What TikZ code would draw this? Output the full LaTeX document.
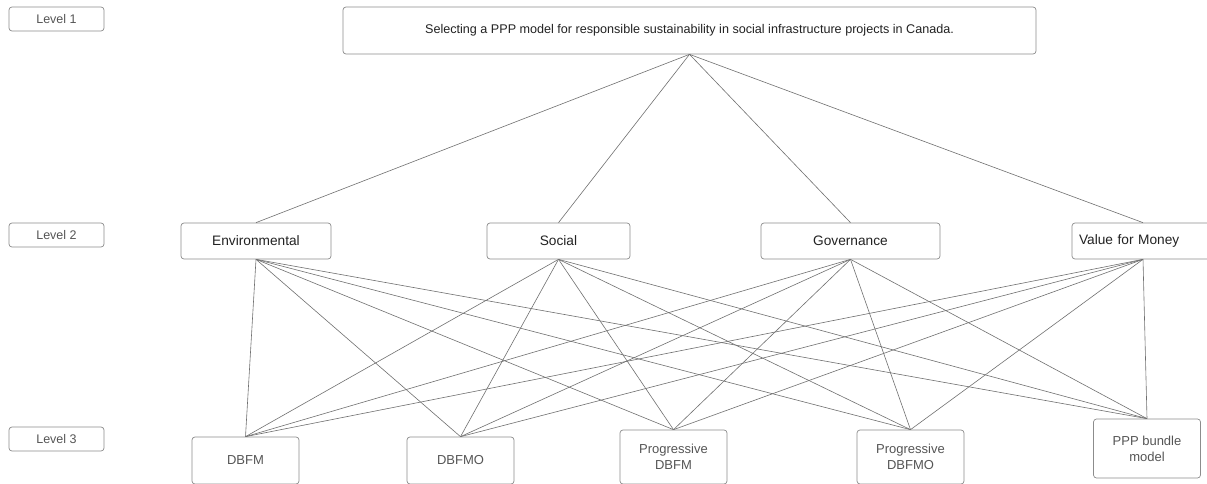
\documentclass[tikz,border=0pt]{standalone}
\usepackage{fontspec}
\setmainfont{Liberation Sans}
\definecolor{boxline}{HTML}{8C8C8C}
\definecolor{connc}{HTML}{707070}
\definecolor{txtdark}{HTML}{222222}
\definecolor{txtgray}{HTML}{555555}
\begin{document}
\begin{tikzpicture}[x=1pt,y=-1pt,
  box/.style={draw=boxline, line width=0.7pt, rounded corners=3pt, inner sep=0pt, align=center},
  lvl/.style={box, minimum width=95pt, minimum height=24pt, text=txtgray, font=\fontsize{12.5}{15}\selectfont},
  crit/.style={box, minimum height=36pt, text=txtdark, font=\fontsize{13.7}{16}\selectfont},
  alt/.style={box, minimum width=107pt, text=txtgray, font=\fontsize{13}{16}\selectfont},
  link/.style={draw=connc, line width=0.6pt}]
\useasboundingbox (0,0) rectangle (1207,484);
\fill[white] (0,0) rectangle (1207,484);
\clip (0,0) rectangle (1207,484);

\node[lvl] (l1) at (56.5,19) {Level 1};
\node[lvl] (l2) at (56.5,235) {Level 2};
\node[lvl] (l3) at (56.5,439) {Level 3};

\node[box, minimum width=693pt, minimum height=47pt, text=txtdark, font=\fontsize{12.6}{15}\selectfont] (goal) at (689.5,30.5) {Selecting a PPP model for responsible sustainability in social infrastructure projects in Canada.};

\node[crit, minimum width=150pt] (env) at (256,241) {Environmental};
\node[crit, minimum width=143pt] (soc) at (558.5,241) {Social};
\node[crit, minimum width=179pt] (gov) at (850.5,241) {Governance};
\node[crit, minimum width=142pt, text width=128pt, align=left] (vfm) at (1143,241) {Value for Money};

\node[alt, minimum height=47pt] (dbfm) at (245.5,460.5) {DBFM};
\node[alt, minimum height=47pt] (dbfmo) at (460.5,460.5) {DBFMO};
\node[alt, minimum height=54pt] (pdbfm) at (673.5,457) {Progressive\\DBFM};
\node[alt, minimum height=54pt] (pdbfmo) at (910.5,457) {Progressive\\DBFMO};
\node[alt, minimum height=59pt] (ppp) at (1147,448.5) {PPP bundle\\model};

\foreach \c in {env,soc,gov,vfm}
  \draw[link] (goal.south) -- (\c.north);
\foreach \c in {env,soc,gov,vfm}
  \foreach \a in {dbfm,dbfmo,pdbfm,pdbfmo,ppp}
    \draw[link] (\c.south) -- (\a.north);
\end{tikzpicture}
\end{document}
